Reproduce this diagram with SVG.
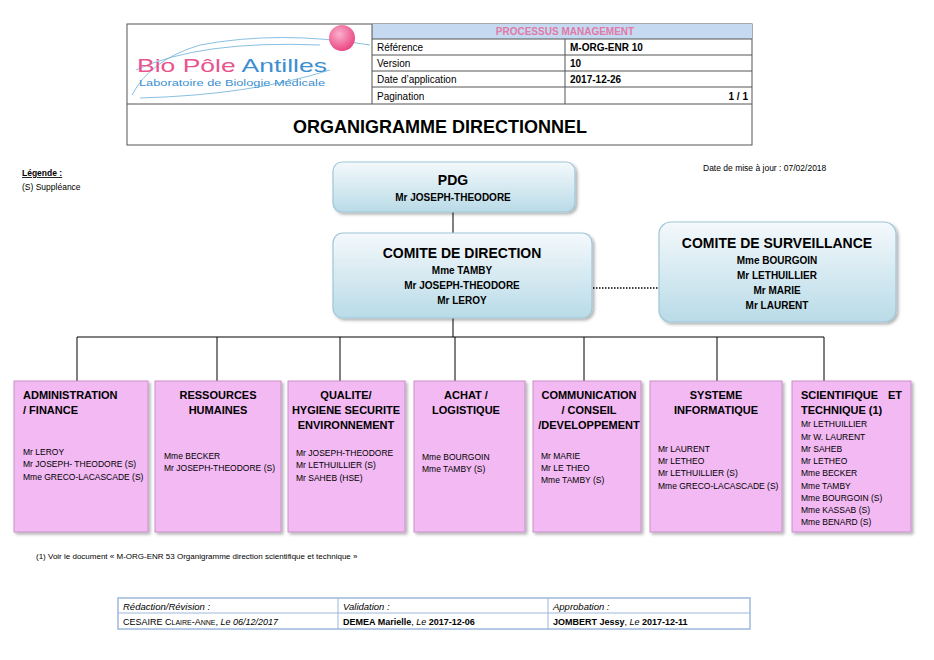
<svg xmlns="http://www.w3.org/2000/svg" width="934" height="660" viewBox="0 0 934 660">
<defs>
<linearGradient id="bl" x1="0" y1="0" x2="0" y2="1"><stop offset="0" stop-color="#f4f9fc"/><stop offset="1" stop-color="#b9dbe7"/></linearGradient>
<radialGradient id="ball" cx="0.4" cy="0.35" r="0.7"><stop offset="0" stop-color="#fbb0cc"/><stop offset="1" stop-color="#e8407e"/></radialGradient>
<filter id="sh" x="-10%" y="-10%" width="130%" height="130%"><feDropShadow dx="2" dy="2" stdDeviation="1.5" flood-color="#000" flood-opacity="0.3"/></filter>
</defs>
<style>
text{font-family:"Liberation Sans",Arial,sans-serif;fill:#000}
.b{font-weight:bold}
.t{font-size:10px}
.h{font-size:11px;font-weight:bold}
.n{font-size:8.5px}
.blue{fill:url(#bl);stroke:#9fc6d8;stroke-width:1.2;filter:url(#sh)}
.pink{fill:#f2b9f3;stroke:#c890c8;stroke-width:1;filter:url(#sh)}
.ln{stroke:#000;stroke-width:1;fill:none}
.g{stroke:#555;stroke-width:1;fill:none}
</style>
<rect width="934" height="660" fill="#fff"/>
<g id="header">
<rect x="127" y="24" width="625" height="121" class="g"/>
<rect x="372" y="24" width="380" height="15" fill="#c5d9f1"/>
<line x1="372" y1="24" x2="372" y2="104" class="g"/>
<line x1="127" y1="104" x2="752" y2="104" class="g"/>
<line x1="372" y1="39" x2="752" y2="39" class="g"/>
<line x1="372" y1="55" x2="752" y2="55" class="g"/>
<line x1="372" y1="71" x2="752" y2="71" class="g"/>
<line x1="372" y1="87" x2="752" y2="87" class="g"/>
<line x1="565" y1="39" x2="565" y2="104" class="g"/>
<text x="565" y="35" text-anchor="middle" class="b" font-size="10" style="fill:#e07aa8">PROCESSUS MANAGEMENT</text>
<text x="377" y="51" class="t">Référence</text>
<text x="377" y="67" class="t">Version</text>
<text x="377" y="83" class="t">Date d’application</text>
<text x="377" y="100" class="t">Pagination</text>
<text x="570" y="51" class="t b">M-ORG-ENR 10</text>
<text x="570" y="67" class="t b">10</text>
<text x="570" y="83" class="t b">2017-12-26</text>
<text x="748" y="100" class="t b" text-anchor="end">1 / 1</text>
<text x="440" y="133" text-anchor="middle" class="b" font-size="18">ORGANIGRAMME DIRECTIONNEL</text>
<path d="M136 70 Q200 40 320 45" stroke="#6ab0d8" fill="none" stroke-width="0.8"/>
<path d="M132 95 Q150 60 200 45 Q280 30 370 45" stroke="#6ab0d8" fill="none" stroke-width="0.8"/>
<path d="M140 98 Q250 95 330 70" stroke="#6ab0d8" fill="none" stroke-width="0.8"/>
<circle cx="342" cy="38" r="13" fill="url(#ball)"/>
<text x="137" y="72" font-size="19" textLength="190" lengthAdjust="spacingAndGlyphs"><tspan style="fill:#e9548f">Bio Pôle </tspan><tspan style="fill:#3d8fd0">Antilles</tspan></text>
<text x="139" y="86" font-size="9" style="fill:#3d8fd0" textLength="186" lengthAdjust="spacingAndGlyphs">Laboratoire de Biologie Médicale</text>
</g>
<g id="legend">
<text x="22" y="176" class="b" font-size="8.5" text-decoration="underline">Légende :</text>
<text x="22" y="190" font-size="8.5">(S) Suppléance</text>
<text x="703" y="171" font-size="8.5">Date de mise à jour : 07/02/2018</text>
</g>
<g id="connectors">
<line x1="453" y1="212" x2="453" y2="233" class="ln"/>
<line x1="453" y1="318" x2="453" y2="337" class="ln"/>
<line x1="77" y1="337" x2="824" y2="337" class="ln"/>
<line x1="77" y1="337" x2="77" y2="381" class="ln"/>
<line x1="217" y1="337" x2="217" y2="381" class="ln"/>
<line x1="340" y1="337" x2="340" y2="381" class="ln"/>
<line x1="455" y1="337" x2="455" y2="381" class="ln"/>
<line x1="584" y1="337" x2="584" y2="381" class="ln"/>
<line x1="717" y1="337" x2="717" y2="381" class="ln"/>
<line x1="824" y1="337" x2="824" y2="381" class="ln"/>
<line x1="593" y1="288" x2="659" y2="288" stroke="#000" stroke-width="1.5" stroke-dasharray="1.5,1.5"/>
</g>
<g id="pdg">
<rect x="333" y="162" width="242" height="50" rx="9" class="blue"/>
<text x="453" y="185" text-anchor="middle" class="b" font-size="14">PDG</text>
<text x="453" y="201" text-anchor="middle" class="b" font-size="10">Mr JOSEPH-THEODORE</text>
</g>
<g id="cd">
<rect x="333" y="233" width="259" height="85" rx="10" class="blue"/>
<text x="462" y="258" text-anchor="middle" class="b" font-size="14">COMITE DE DIRECTION</text>
<text x="462" y="274" text-anchor="middle" class="b" font-size="10">Mme TAMBY</text>
<text x="462" y="289" text-anchor="middle" class="b" font-size="10">Mr JOSEPH-THEODORE</text>
<text x="462" y="304" text-anchor="middle" class="b" font-size="10">Mr LEROY</text>
</g>
<g id="cs">
<rect x="659" y="222" width="237" height="100" rx="12" class="blue"/>
<text x="777" y="248" text-anchor="middle" class="b" font-size="14">COMITE DE SURVEILLANCE</text>
<text x="777" y="264" text-anchor="middle" class="b" font-size="10">Mme BOURGOIN</text>
<text x="777" y="279" text-anchor="middle" class="b" font-size="10">Mr LETHUILLIER</text>
<text x="777" y="294" text-anchor="middle" class="b" font-size="10">Mr MARIE</text>
<text x="777" y="309" text-anchor="middle" class="b" font-size="10">Mr LAURENT</text>
</g>
<g id="admin">
<rect x="14" y="381" width="134" height="151" class="pink"/>
<text x="23" y="399" class="h">ADMINISTRATION</text>
<text x="23" y="414" class="h">/ FINANCE</text>
<text x="23" y="455" class="n">Mr LEROY</text>
<text x="23" y="467" class="n">Mr JOSEPH- THEODORE  (S)</text>
<text x="23" y="480" class="n">Mme GRECO-LACASCADE (S)</text>
</g>
<g id="rh">
<rect x="155" y="381" width="126" height="151" class="pink"/>
<text x="218" y="399" class="h" text-anchor="middle">RESSOURCES</text>
<text x="218" y="414" class="h" text-anchor="middle">HUMAINES</text>
<text x="164" y="459" class="n">Mme BECKER</text>
<text x="164" y="471" class="n">Mr JOSEPH-THEODORE (S)</text>
</g>
<g id="qualite">
<rect x="288" y="381" width="117" height="151" class="pink"/>
<text x="346" y="399" class="h" text-anchor="middle">QUALITE/</text>
<text x="346" y="414" class="h" text-anchor="middle">HYGIENE SECURITE</text>
<text x="346" y="429" class="h" text-anchor="middle">ENVIRONNEMENT</text>
<text x="296" y="456" class="n">Mr JOSEPH-THEODORE</text>
<text x="296" y="468" class="n">Mr LETHUILLIER (S)</text>
<text x="296" y="481" class="n">Mr SAHEB (HSE)</text>
</g>
<g id="achat">
<rect x="414" y="381" width="111" height="151" class="pink"/>
<text x="466" y="399" class="h" text-anchor="middle">ACHAT /</text>
<text x="466" y="414" class="h" text-anchor="middle">LOGISTIQUE</text>
<text x="422" y="460" class="n">Mme BOURGOIN</text>
<text x="422" y="472" class="n">Mme TAMBY (S)</text>
</g>
<g id="comm">
<rect x="533" y="381" width="108" height="151" class="pink"/>
<text x="589" y="399" class="h" text-anchor="middle">COMMUNICATION</text>
<text x="589" y="414" class="h" text-anchor="middle">/ CONSEIL</text>
<text x="589" y="429" class="h" text-anchor="middle">/DEVELOPPEMENT</text>
<text x="541" y="459" class="n">Mr MARIE</text>
<text x="541" y="471" class="n">Mr LE THEO</text>
<text x="541" y="483" class="n">Mme TAMBY (S)</text>
</g>
<g id="si">
<rect x="650" y="381" width="132" height="151" class="pink"/>
<text x="716" y="399" class="h" text-anchor="middle">SYSTEME</text>
<text x="716" y="414" class="h" text-anchor="middle">INFORMATIQUE</text>
<text x="658" y="452" class="n">Mr LAURENT</text>
<text x="658" y="464" class="n">Mr LETHEO</text>
<text x="658" y="476" class="n">Mr LETHUILLIER (S)</text>
<text x="658" y="489" class="n">Mme GRECO-LACASCADE (S)</text>
</g>
<g id="sci">
<rect x="792" y="381" width="119" height="151" class="pink"/>
<text x="801" y="399" class="h">SCIENTIFIQUE</text>
<text x="902" y="399" class="h" text-anchor="end">ET</text>
<text x="801" y="414" class="h">TECHNIQUE (1)</text>
<text x="801" y="427" class="n">Mr LETHUILLIER</text>
<text x="801" y="440" class="n">Mr W. LAURENT</text>
<text x="801" y="452" class="n">Mr SAHEB</text>
<text x="801" y="464" class="n">Mr LETHEO</text>
<text x="801" y="476" class="n">Mme BECKER</text>
<text x="801" y="489" class="n">Mme TAMBY</text>
<text x="801" y="501" class="n">Mme BOURGOIN (S)</text>
<text x="801" y="513" class="n">Mme KASSAB (S)</text>
<text x="801" y="525" class="n">Mme BENARD (S)</text>
</g>
<g id="footer">
<text x="36" y="559" font-size="8">(1) Voir le document  « M-ORG-ENR 53  Organigramme direction scientifique et technique »</text>
<rect x="118" y="598" width="632" height="31" fill="none" stroke="#9db8dd" stroke-width="1.5"/>
<line x1="118" y1="613" x2="750" y2="613" stroke="#9db8dd"/>
<line x1="338" y1="598" x2="338" y2="629" stroke="#9db8dd"/>
<line x1="548" y1="598" x2="548" y2="629" stroke="#9db8dd"/>
<text x="123" y="610" font-size="9.5" font-style="italic">Rédaction/Révision :</text>
<text x="343" y="610" font-size="9.5" font-style="italic">Validation :</text>
<text x="553" y="610" font-size="9.5" font-style="italic">Approbation :</text>
<text x="123" y="625" font-size="9">CESAIRE C<tspan font-size="7">LAIRE</tspan>-A<tspan font-size="7">NNE</tspan>, <tspan font-style="italic">Le 06/12/2017</tspan></text>
<text x="343" y="625" font-size="9"><tspan class="b">DEMEA Marielle</tspan>, <tspan font-style="italic">Le</tspan> <tspan class="b">2017-12-06</tspan></text>
<text x="553" y="625" font-size="9"><tspan class="b">JOMBERT Jessy</tspan>, <tspan font-style="italic">Le</tspan> <tspan class="b">2017-12-11</tspan></text>
</g>
</svg>
